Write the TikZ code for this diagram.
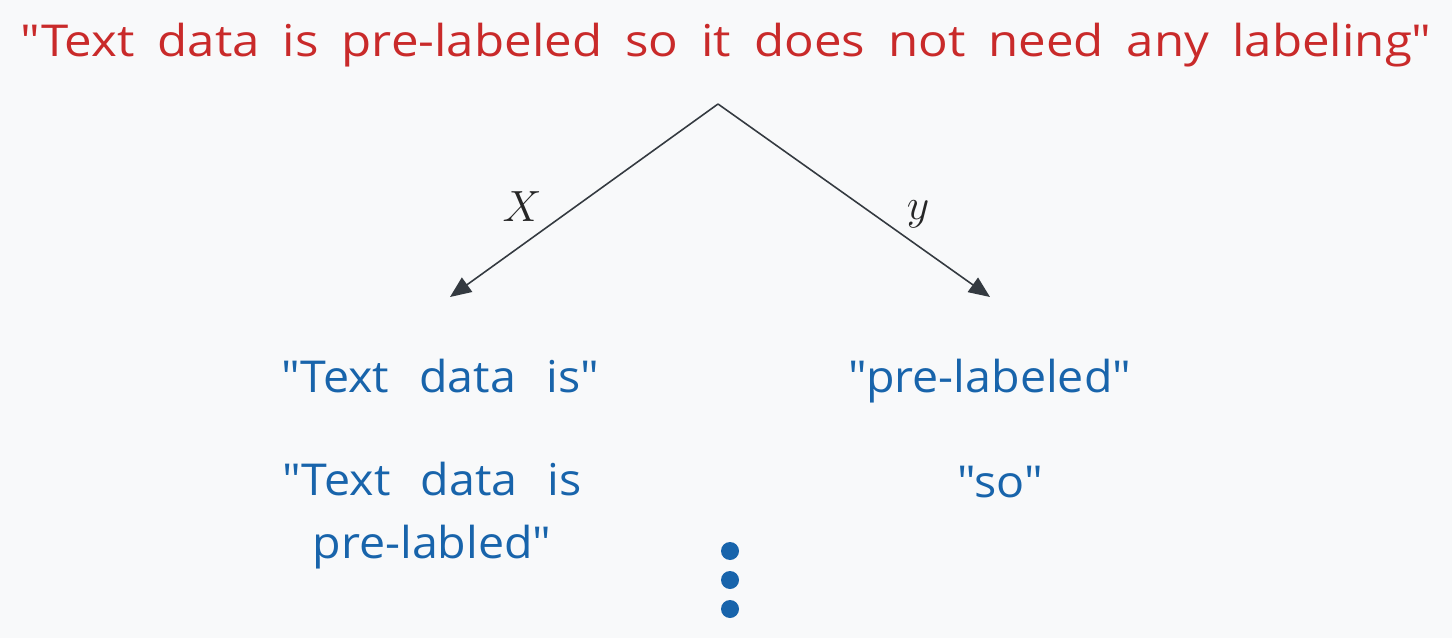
\documentclass[tikz,border=0pt]{standalone}
\usepackage{fontspec}
\setmainfont{Open Sans}[Ligatures=TeXOff]
\newfontfamily\titlefont{Open Sans}[Ligatures=TeXOff, WordSpace=1.8, FakeStretch=1.12]
\newfontfamily\itemfont{Open Sans}[Ligatures=TeXOff, WordSpace=2.5, FakeStretch=1.06]
\usetikzlibrary{arrows.meta}
\definecolor{bg}{HTML}{F8F9FA}
\definecolor{xred}{HTML}{C92A2A}
\definecolor{xblue}{HTML}{1864AB}
\definecolor{xgray}{HTML}{343A40}
\begin{document}
\begin{tikzpicture}[x=0.02cm,y=-0.02cm,
  titletext/.style={font=\titlefont\fontsize{25}{30}\selectfont, text=xred, inner sep=0pt, anchor=base},
  itemtext/.style={font=\itemfont\fontsize{25}{36}\selectfont, text=xblue, inner sep=0pt, anchor=base, align=center},
  conn/.style={draw=xgray, line width=0.9pt, -{Triangle[length=12pt,width=10pt]}},
  mathlbl/.style={font=\fontsize{26}{30}\selectfont, text=black!85, inner sep=0pt}
]
\fill[bg] (0,0) rectangle (1452,638);
\useasboundingbox (0,0) rectangle (1452,638);

\node[titletext] (title) at (726,57) {"Text data is pre-labeled so it does not need any labeling"};

\coordinate (apex) at (718,104);
\coordinate (lt) at (450,297);
\coordinate (rt) at (990,297);

\draw[conn] (apex) -- (lt);
\draw[conn] (apex) -- (rt);

\node[mathlbl] (xl) at (522,207) {$X$};
\node[mathlbl] (yl) at (918,214) {$y$};

\node[itemtext] (x1) at (440,392) {"Text data is"};
\node[itemtext] (y1) at (990,392) {"pre-labeled"};
\node[itemtext, anchor=north] (x2) at (432,462) {"Text data is\\pre-labled"};
\node[itemtext] (y2) at (1000,497) {"so"};

\fill[xblue] (730,551) circle (9);
\fill[xblue] (730,580) circle (9);
\fill[xblue] (730,609) circle (9);
\end{tikzpicture}
\end{document}
